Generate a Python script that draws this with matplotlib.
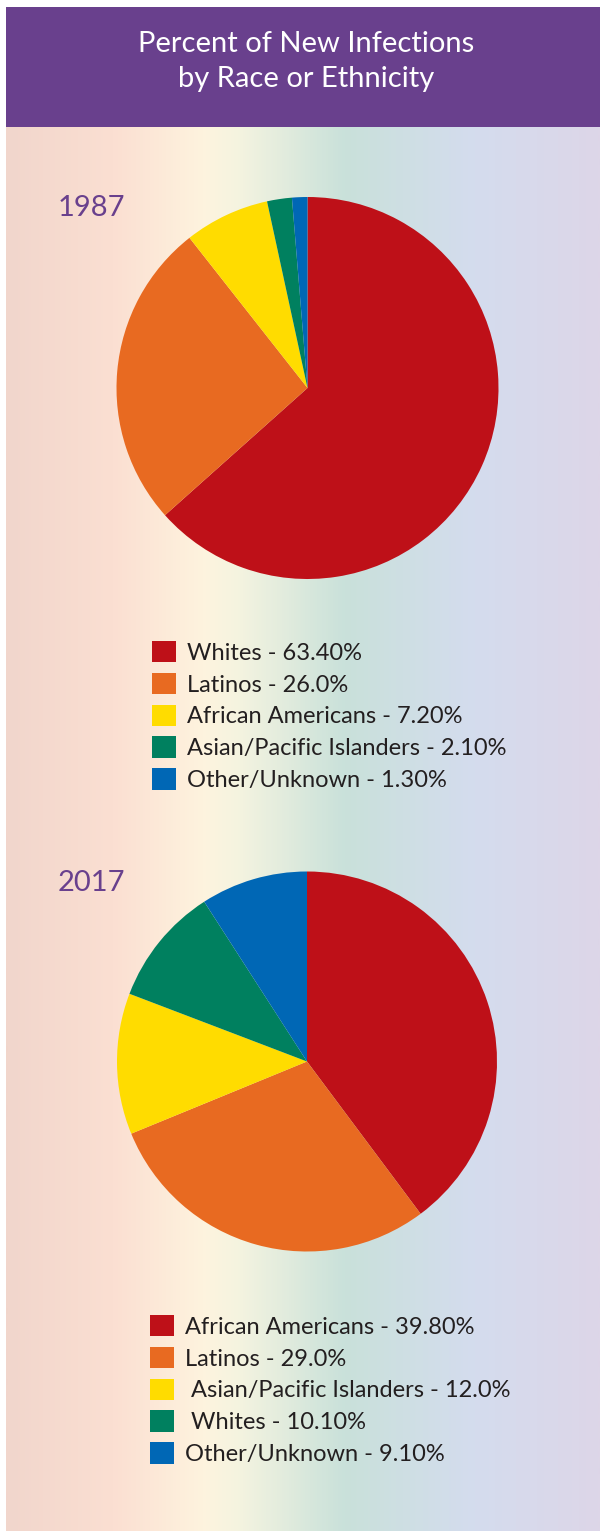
import matplotlib
matplotlib.use('Agg')
import matplotlib.pyplot as plt
import numpy as np
from matplotlib.colors import LinearSegmentedColormap
from matplotlib.patches import Rectangle

plt.rcParams['font.family'] = ['Lato', 'DejaVu Sans']

W, H = 600, 1531
DPI = 100

# data
years = ['1987', '2017']
colors = ['#BE1018', '#E86A21', '#FFDC00', '#00805F', '#0067B5']

values_1987 = [63.4, 26.0, 7.2, 2.1, 1.3]
labels_1987 = ['Whites - 63.40%', 'Latinos - 26.0%', 'African Americans - 7.20%',
               'Asian/Pacific Islanders - 2.10%', 'Other/Unknown - 1.30%']

values_2017 = [39.8, 29.0, 12.0, 10.1, 9.1]
labels_2017 = ['African Americans - 39.80%', 'Latinos - 29.0%',
               ' Asian/Pacific Islanders - 12.0%', ' Whites - 10.10%',
               'Other/Unknown - 9.10%']

purple = '#69408D'
text_dark = '#231F20'

fig = plt.figure(figsize=(W / DPI, H / DPI), dpi=DPI)
fig.patch.set_facecolor('white')

def px(x0, y0, w, h):
    # pixel box (top-left origin) -> figure fraction rect
    return [x0 / W, 1 - (y0 + h) / H, w / W, h / H]

# background gradient
bg_stops = [(0.0, '#F1D6CC'), (0.18, '#FBDFD2'), (0.33, '#FEF3DE'), (0.39, '#F5F4E0'),
            (0.57, '#C9E1DA'), (0.79, '#D4DCEE'), (1.0, '#DDD6E8')]
cmap = LinearSegmentedColormap.from_list('bg', bg_stops)
bg = fig.add_axes(px(6, 7, W - 6, H - 7))
bg.imshow(np.linspace(0, 1, 512)[None, :], aspect='auto', cmap=cmap,
          extent=(0, 1, 0, 1))
bg.set_xlim(0, 1); bg.set_ylim(0, 1)
bg.axis('off')

# header band
hd = fig.add_axes(px(6, 7, W - 6, 120))
hd.add_patch(Rectangle((0, 0), 1, 1, color=purple))
hd.set_xlim(0, 1); hd.set_ylim(0, 1)
hd.axis('off')
hd.text(0.505, 0.545, 'Percent of New Infections\nby Race or Ethnicity', color='white',
        fontsize=21, ha='center', va='center', linespacing=1.46)

def draw_pie(cx, cy, r, vals, labels, year, year_y, legend_x, legend_top):
    ax = fig.add_axes(px(cx - r, cy - r, 2 * r, 2 * r))
    wedges, _ = ax.pie(vals, colors=colors, startangle=90, counterclock=False,
                       radius=1.0, wedgeprops=dict(linewidth=0))
    ax.set_xlim(-1, 1); ax.set_ylim(-1, 1)
    ax.axis('off')
    fig.text(58 / W, 1 - year_y / H, year, color=purple, fontsize=21,
             ha='left', va='center')
    fig.legend(wedges, labels, loc='upper left',
               bbox_to_anchor=(legend_x / W, 1 - legend_top / H),
               frameon=False, fontsize=17, labelcolor=text_dark,
               handlelength=1.02, handleheight=1.02, handletextpad=0.45,
               labelspacing=0.38, borderpad=0, borderaxespad=0)
    return ax

draw_pie(307.5, 388, 191, values_1987, labels_1987, years[0], 208, 152, 641)
draw_pie(307, 1061.5, 190, values_2017, labels_2017, years[1], 883, 150, 1315)

fig.savefig('out.png', dpi=DPI, facecolor='white')
